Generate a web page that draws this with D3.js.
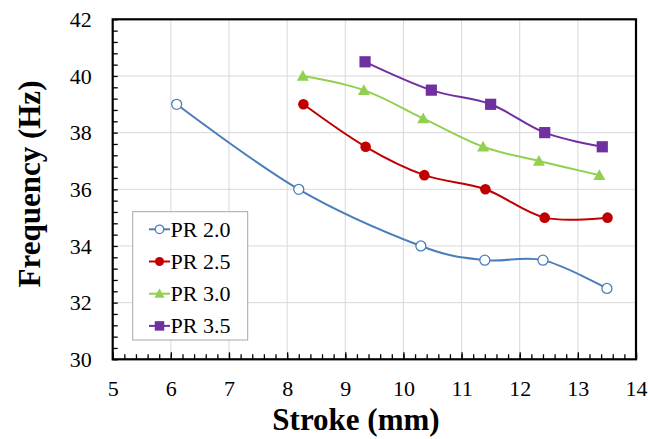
<!DOCTYPE html>
<html>
<head>
<meta charset="utf-8">
<script src="https://cdn.jsdelivr.net/npm/d3@7"></script>
<style>
  html, body { margin: 0; padding: 0; background: #fff; }
  svg { display: block; }
</style>
</head>
<body>
<svg id="chart" width="648" height="439"></svg>
<script>
// ---- data ----
const seriesNames = ["PR 2.0", "PR 2.5", "PR 3.0", "PR 3.5"];
const strokePR20 = [6.1, 8.2, 10.3, 11.4, 12.4, 13.5];
const freqPR20   = [39, 36, 34, 33.5, 33.5, 32.5];
const strokePR25 = [8.28, 9.35, 10.36, 11.41, 12.43, 13.51];
const freqPR25   = [39, 37.5, 36.5, 36, 35, 35];
const strokePR30 = [8.27, 9.32, 10.34, 11.37, 12.33, 13.37];
const freqPR30   = [40, 39.5, 38.5, 37.5, 37, 36.5];
const strokePR35 = [9.34, 10.48, 11.5, 12.43, 13.42];
const freqPR35   = [40.5, 39.5, 39, 38, 37.5];
const xTicks = [5, 6, 7, 8, 9, 10, 11, 12, 13, 14];
const yTicks = [30, 32, 34, 36, 38, 40, 42];
const xTitle = "Stroke (mm)";
const yTitle = "Frequency (Hz)";

const colors = ["#4a7ebb", "#c00000", "#92d050", "#7030a0"];
const markers = ["openCircle", "circle", "triangle", "square"];

const series = [
  {name: seriesNames[0], xs: strokePR20, ys: freqPR20},
  {name: seriesNames[1], xs: strokePR25, ys: freqPR25},
  {name: seriesNames[2], xs: strokePR30, ys: freqPR30},
  {name: seriesNames[3], xs: strokePR35, ys: freqPR35}
].map((s, i) => ({...s, color: colors[i], marker: markers[i], pts: s.xs.map((x, j) => [x, s.ys[j]])}));

// ---- layout ----
const svg = d3.select("#chart");
const L = 112.7, R = 636, T = 19.3, B = 359.3;
const x = d3.scaleLinear().domain([5, 14]).range([L, R]);
const y = d3.scaleLinear().domain([30, 42]).range([B, T]);

const serif = "'Liberation Serif', 'Times New Roman', serif";

// gridlines
const grid = svg.append("g");
grid.selectAll("line.vx").data(xTicks.filter(t => t > 5 && t < 14)).enter().append("line")
  .attr("x1", d => x(d)).attr("x2", d => x(d)).attr("y1", T).attr("y2", B)
  .attr("stroke", "#d9d9d9").attr("stroke-width", 1);
grid.selectAll("line.hy").data(yTicks.filter(t => t > 30 && t < 42)).enter().append("line")
  .attr("x1", L).attr("x2", R).attr("y1", d => y(d)).attr("y2", d => y(d))
  .attr("stroke", "#d9d9d9").attr("stroke-width", 1);

// minor ticks (inside)
const xMinor = d3.range(5, 14.001, 0.2);
const yMinor = d3.range(30, 42.001, 0.4);
const xAxisG = svg.append("g").attr("transform", `translate(0,${B})`)
  .call(d3.axisBottom(x).tickValues(xMinor).tickSize(-5).tickFormat(""));
xAxisG.select(".domain").remove();
xAxisG.selectAll(".tick line").attr("stroke", "#000").attr("stroke-width", 1.3);
const yAxisG = svg.append("g").attr("transform", `translate(${L},0)`)
  .call(d3.axisLeft(y).tickValues(yMinor).tickSize(-5).tickFormat(""));
yAxisG.select(".domain").remove();
yAxisG.selectAll(".tick line").attr("stroke", "#000").attr("stroke-width", 1.3);

// major x tick labels
const xLab = svg.append("g").attr("transform", `translate(0,${B})`)
  .call(d3.axisBottom(x).tickValues(xTicks).tickSize(-7).tickPadding(0).tickFormat(d3.format("d")));
xLab.select(".domain").remove();
xLab.selectAll(".tick line").attr("stroke", "#000").attr("stroke-width", 1.3);
xLab.selectAll(".tick text").attr("y", 37).attr("dy", 0)
  .attr("font-family", serif).attr("font-size", 22).attr("fill", "#000");

const yLab = svg.append("g").attr("transform", `translate(${L},0)`)
  .call(d3.axisLeft(y).tickValues(yTicks).tickSize(0).tickPadding(21).tickFormat(d3.format("d")));
yLab.select(".domain").remove();
yLab.selectAll(".tick text").attr("font-family", serif).attr("font-size", 22).attr("fill", "#000");

// frame
svg.append("rect").attr("x", L).attr("y", T).attr("width", R - L).attr("height", B - T)
  .attr("fill", "none").attr("stroke", "#000").attr("stroke-width", 2.2);

// axis titles
svg.append("text").attr("x", 356).attr("y", 430).attr("text-anchor", "middle")
  .attr("font-family", serif).attr("font-weight", "bold").attr("font-size", 31).text(xTitle);
svg.append("text").attr("transform", "translate(39.5,184) rotate(-90)").attr("text-anchor", "middle")
  .attr("font-family", serif).attr("font-weight", "bold").attr("font-size", 31).text(yTitle);

// lines
const line = d3.line().x(d => x(d[0])).y(d => y(d[1])).curve(d3.curveCardinal.tension(0));
svg.append("g").selectAll("path").data(series).enter().append("path")
  .attr("d", d => line(d.pts)).attr("fill", "none")
  .attr("stroke", d => d.color).attr("stroke-width", 2);

function drawMarker(g, type, color, cx, cy, scale) {
  scale = scale || 1;
  if (type === "openCircle") {
    g.append("circle").attr("cx", cx).attr("cy", cy).attr("r", 5 * scale)
      .attr("fill", "#fff").attr("stroke", color).attr("stroke-width", 1.3);
  } else if (type === "circle") {
    g.append("circle").attr("cx", cx).attr("cy", cy).attr("r", 5.3 * scale).attr("fill", color);
  } else if (type === "triangle") {
    const s = 6 * scale;
    g.append("path").attr("d", `M${cx},${cy - s}L${cx + s},${cy + s * 0.8}L${cx - s},${cy + s * 0.8}Z`).attr("fill", color);
  } else if (type === "square") {
    const s = 5.6 * scale;
    g.append("rect").attr("x", cx - s).attr("y", cy - s).attr("width", 2 * s).attr("height", 2 * s).attr("fill", color);
  }
}

const mk = svg.append("g");
series.forEach(s => s.pts.forEach(p => drawMarker(mk, s.marker, s.color, x(p[0]), y(p[1]))));

// legend
const lg = svg.append("g");
lg.append("rect").attr("x", 132.7).attr("y", 211.7).attr("width", 115).attr("height", 128.3)
  .attr("fill", "#fff").attr("stroke", "#a6a6a6").attr("stroke-width", 1);
series.forEach((s, i) => {
  const cy = 229.3 + i * 32.2;
  lg.append("line").attr("x1", 149).attr("x2", 170).attr("y1", cy).attr("y2", cy)
    .attr("stroke", s.color).attr("stroke-width", 2);
  drawMarker(lg, s.marker, s.color, 159.5, cy, 0.85);
  lg.append("text").attr("x", 170.5).attr("y", cy + 7.5)
    .attr("font-family", serif).attr("font-size", 22).attr("fill", "#000").text(s.name);
});
</script>
</body>
</html>
